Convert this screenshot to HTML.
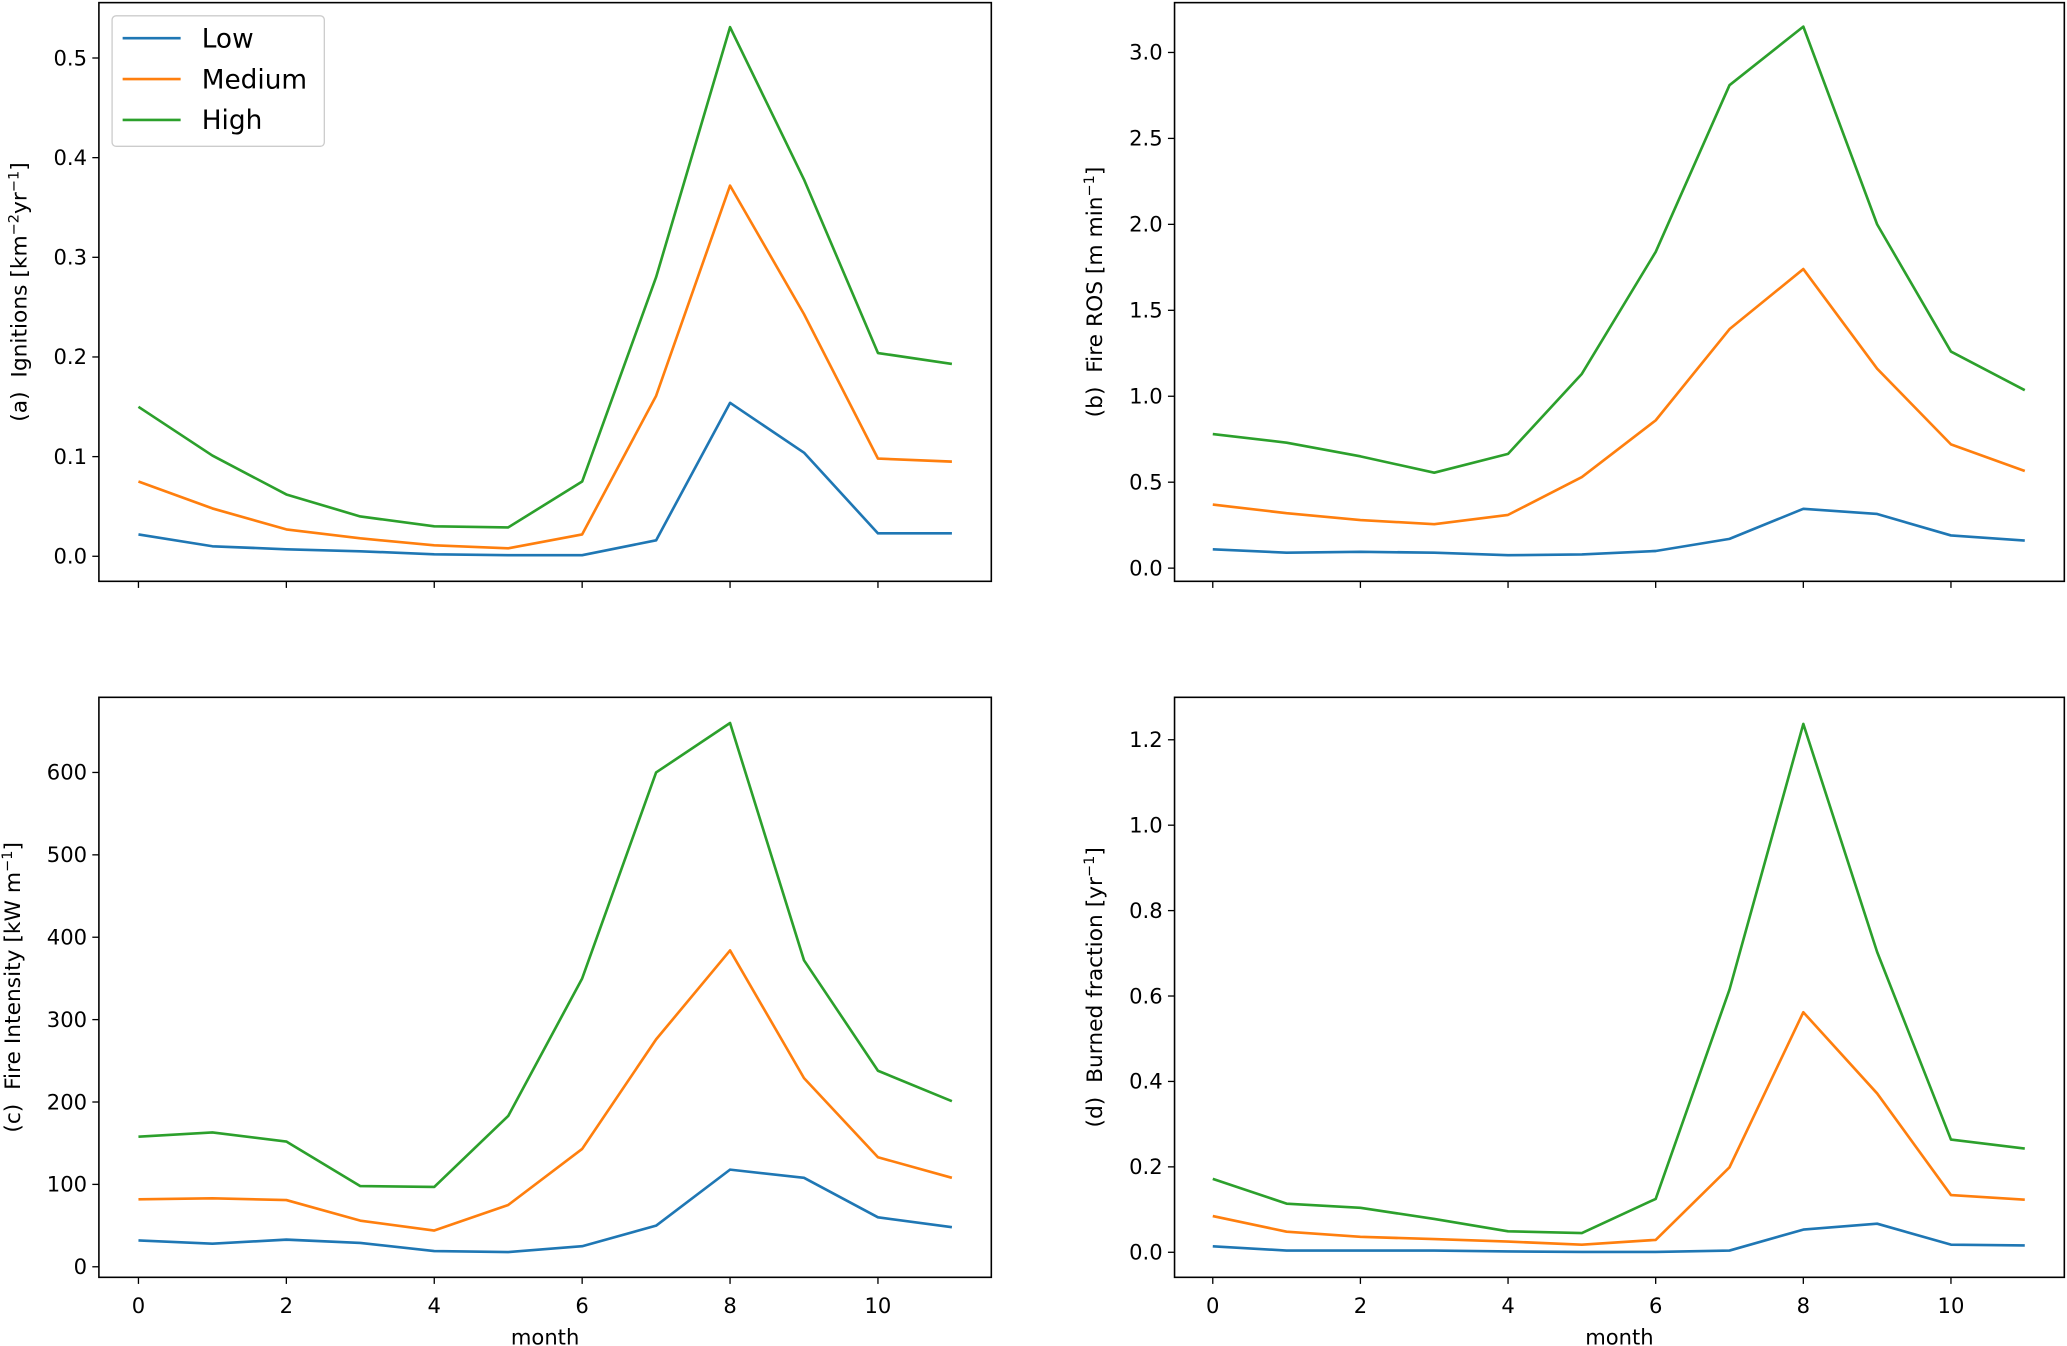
<!DOCTYPE html>
<html><head><meta charset="utf-8"><style>
html,body{margin:0;padding:0;background:#fff}
svg{display:block}
text{font-family:"DejaVu Sans","Liberation Sans",sans-serif;fill:#000}
</style></head><body>
<svg id="s" width="2067" height="1346" viewBox="0 0 1568 1021.1" xmlns="http://www.w3.org/2000/svg"></svg>
<script>
const S=document.getElementById('s');let h='';
const C=['#1f77b4','#ff7f0e','#2ca02c'];
const P=[
{L:75,R:752,T:2,B:441,x0:105,dx:56.1,y0:422,dy:75.6/0.1,ticks:[0,0.1,0.2,0.3,0.4,0.5],fmt:v=>v.toFixed(1),lab:'(a)\u00a0\u00a0Ignitions [km<tspan dy="-6" font-size="11">−2</tspan><tspan dy="6">yr</tspan><tspan dy="-6" font-size="11">−1</tspan><tspan dy="6">]</tspan>',lx:20,xl:false,
d:[[0.022,0.010,0.007,0.005,0.002,0.001,0.001,0.016,0.154,0.104,0.023,0.023],[0.075,0.048,0.027,0.018,0.011,0.008,0.022,0.161,0.372,0.243,0.098,0.095],[0.150,0.101,0.062,0.040,0.030,0.029,0.075,0.280,0.531,0.378,0.204,0.193]]},
{L:891,R:1566,T:2,B:441,x0:920,dx:56,y0:431,dy:65.2/0.5,ticks:[0,0.5,1,1.5,2,2.5,3],fmt:v=>v.toFixed(1),lab:'(b)\u00a0\u00a0Fire ROS [m min<tspan dy="-6" font-size="11">−1</tspan><tspan dy="6">]</tspan>',lx:836,xl:false,
d:[[0.11,0.09,0.095,0.09,0.075,0.08,0.1,0.17,0.345,0.315,0.19,0.16],[0.37,0.32,0.28,0.255,0.31,0.53,0.86,1.39,1.74,1.16,0.72,0.565],[0.78,0.73,0.65,0.555,0.665,1.13,1.84,2.81,3.15,2.0,1.26,1.035]]},
{L:75,R:752,T:529,B:969,x0:105,dx:56.1,y0:961,dy:62.5/100,ticks:[0,100,200,300,400,500,600],fmt:v=>v.toFixed(0),lab:'(c)\u00a0\u00a0Fire Intensity [kW m<tspan dy="-6" font-size="11">−1</tspan><tspan dy="6">]</tspan>',lx:15,xl:true,
d:[[32,28,33,29,19,18,25,50,118,108,60,48],[82,83,81,56,44,75,143,276,384,229,133,108],[158,163,152,98,97,183,350,600,660,372,238,201]]},
{L:891,R:1566,T:529,B:969,x0:920,dx:56,y0:950,dy:64.8/0.2,ticks:[0,0.2,0.4,0.6,0.8,1,1.2],fmt:v=>v.toFixed(1),lab:'(d)\u00a0\u00a0Burned fraction [yr<tspan dy="-6" font-size="11">−1</tspan><tspan dy="6">]</tspan>',lx:836,xl:true,
d:[[0.014,0.004,0.004,0.004,0.002,0.001,0.001,0.004,0.053,0.067,0.018,0.016],[0.085,0.048,0.036,0.031,0.025,0.018,0.029,0.199,0.562,0.372,0.134,0.123],[0.172,0.114,0.104,0.078,0.049,0.045,0.125,0.615,1.237,0.703,0.264,0.243]]}
];
for(const p of P){
 p.d.forEach((s,i)=>{h+=`<polyline fill="none" stroke="${C[i]}" stroke-width="2" stroke-linejoin="round" points="${s.map((v,j)=>(p.x0+j*p.dx).toFixed(1)+','+(p.y0-v*p.dy).toFixed(1)).join(' ')}"/>`;});
 h+=`<rect x="${p.L}" y="${p.T}" width="${p.R-p.L}" height="${p.B-p.T}" fill="none" stroke="#000" stroke-width="1.2"/>`;
 for(const t of p.ticks){const y=p.y0-t*p.dy;h+=`<line x1="${p.L-5}" x2="${p.L}" y1="${y}" y2="${y}" stroke="#000"/><text x="${p.L-9}" y="${y+5.5}" font-size="16" text-anchor="end">${p.fmt(t)}</text>`;}
 for(let m=0;m<=10;m+=2){const x=p.x0+m*p.dx;h+=`<line x1="${x}" x2="${x}" y1="${p.B}" y2="${p.B+5}" stroke="#000"/>`;if(p.xl)h+=`<text x="${x}" y="${p.B+27}" font-size="16" text-anchor="middle">${m}</text>`;}
 if(p.xl)h+=`<text x="${(p.L+p.R)/2}" y="${p.B+51}" font-size="16" text-anchor="middle">month</text>`;
 const cy=(p.T+p.B)/2;h+=`<text transform="translate(${p.lx},${cy}) rotate(-90)" font-size="16.5" text-anchor="middle">${p.lab}</text>`;
}
h+=`<rect x="85" y="12" width="161" height="99" rx="3" fill="#fff" fill-opacity="0.8" stroke="#ccc"/>`;
['Low','Medium','High'].forEach((t,i)=>{const y=29+i*31;h+=`<line x1="93" x2="137" y1="${y}" y2="${y}" stroke="${C[i]}" stroke-width="2"/><text x="153" y="${y+7}" font-size="20">${t}</text>`;});
S.innerHTML=h;
</script>
</body></html>
